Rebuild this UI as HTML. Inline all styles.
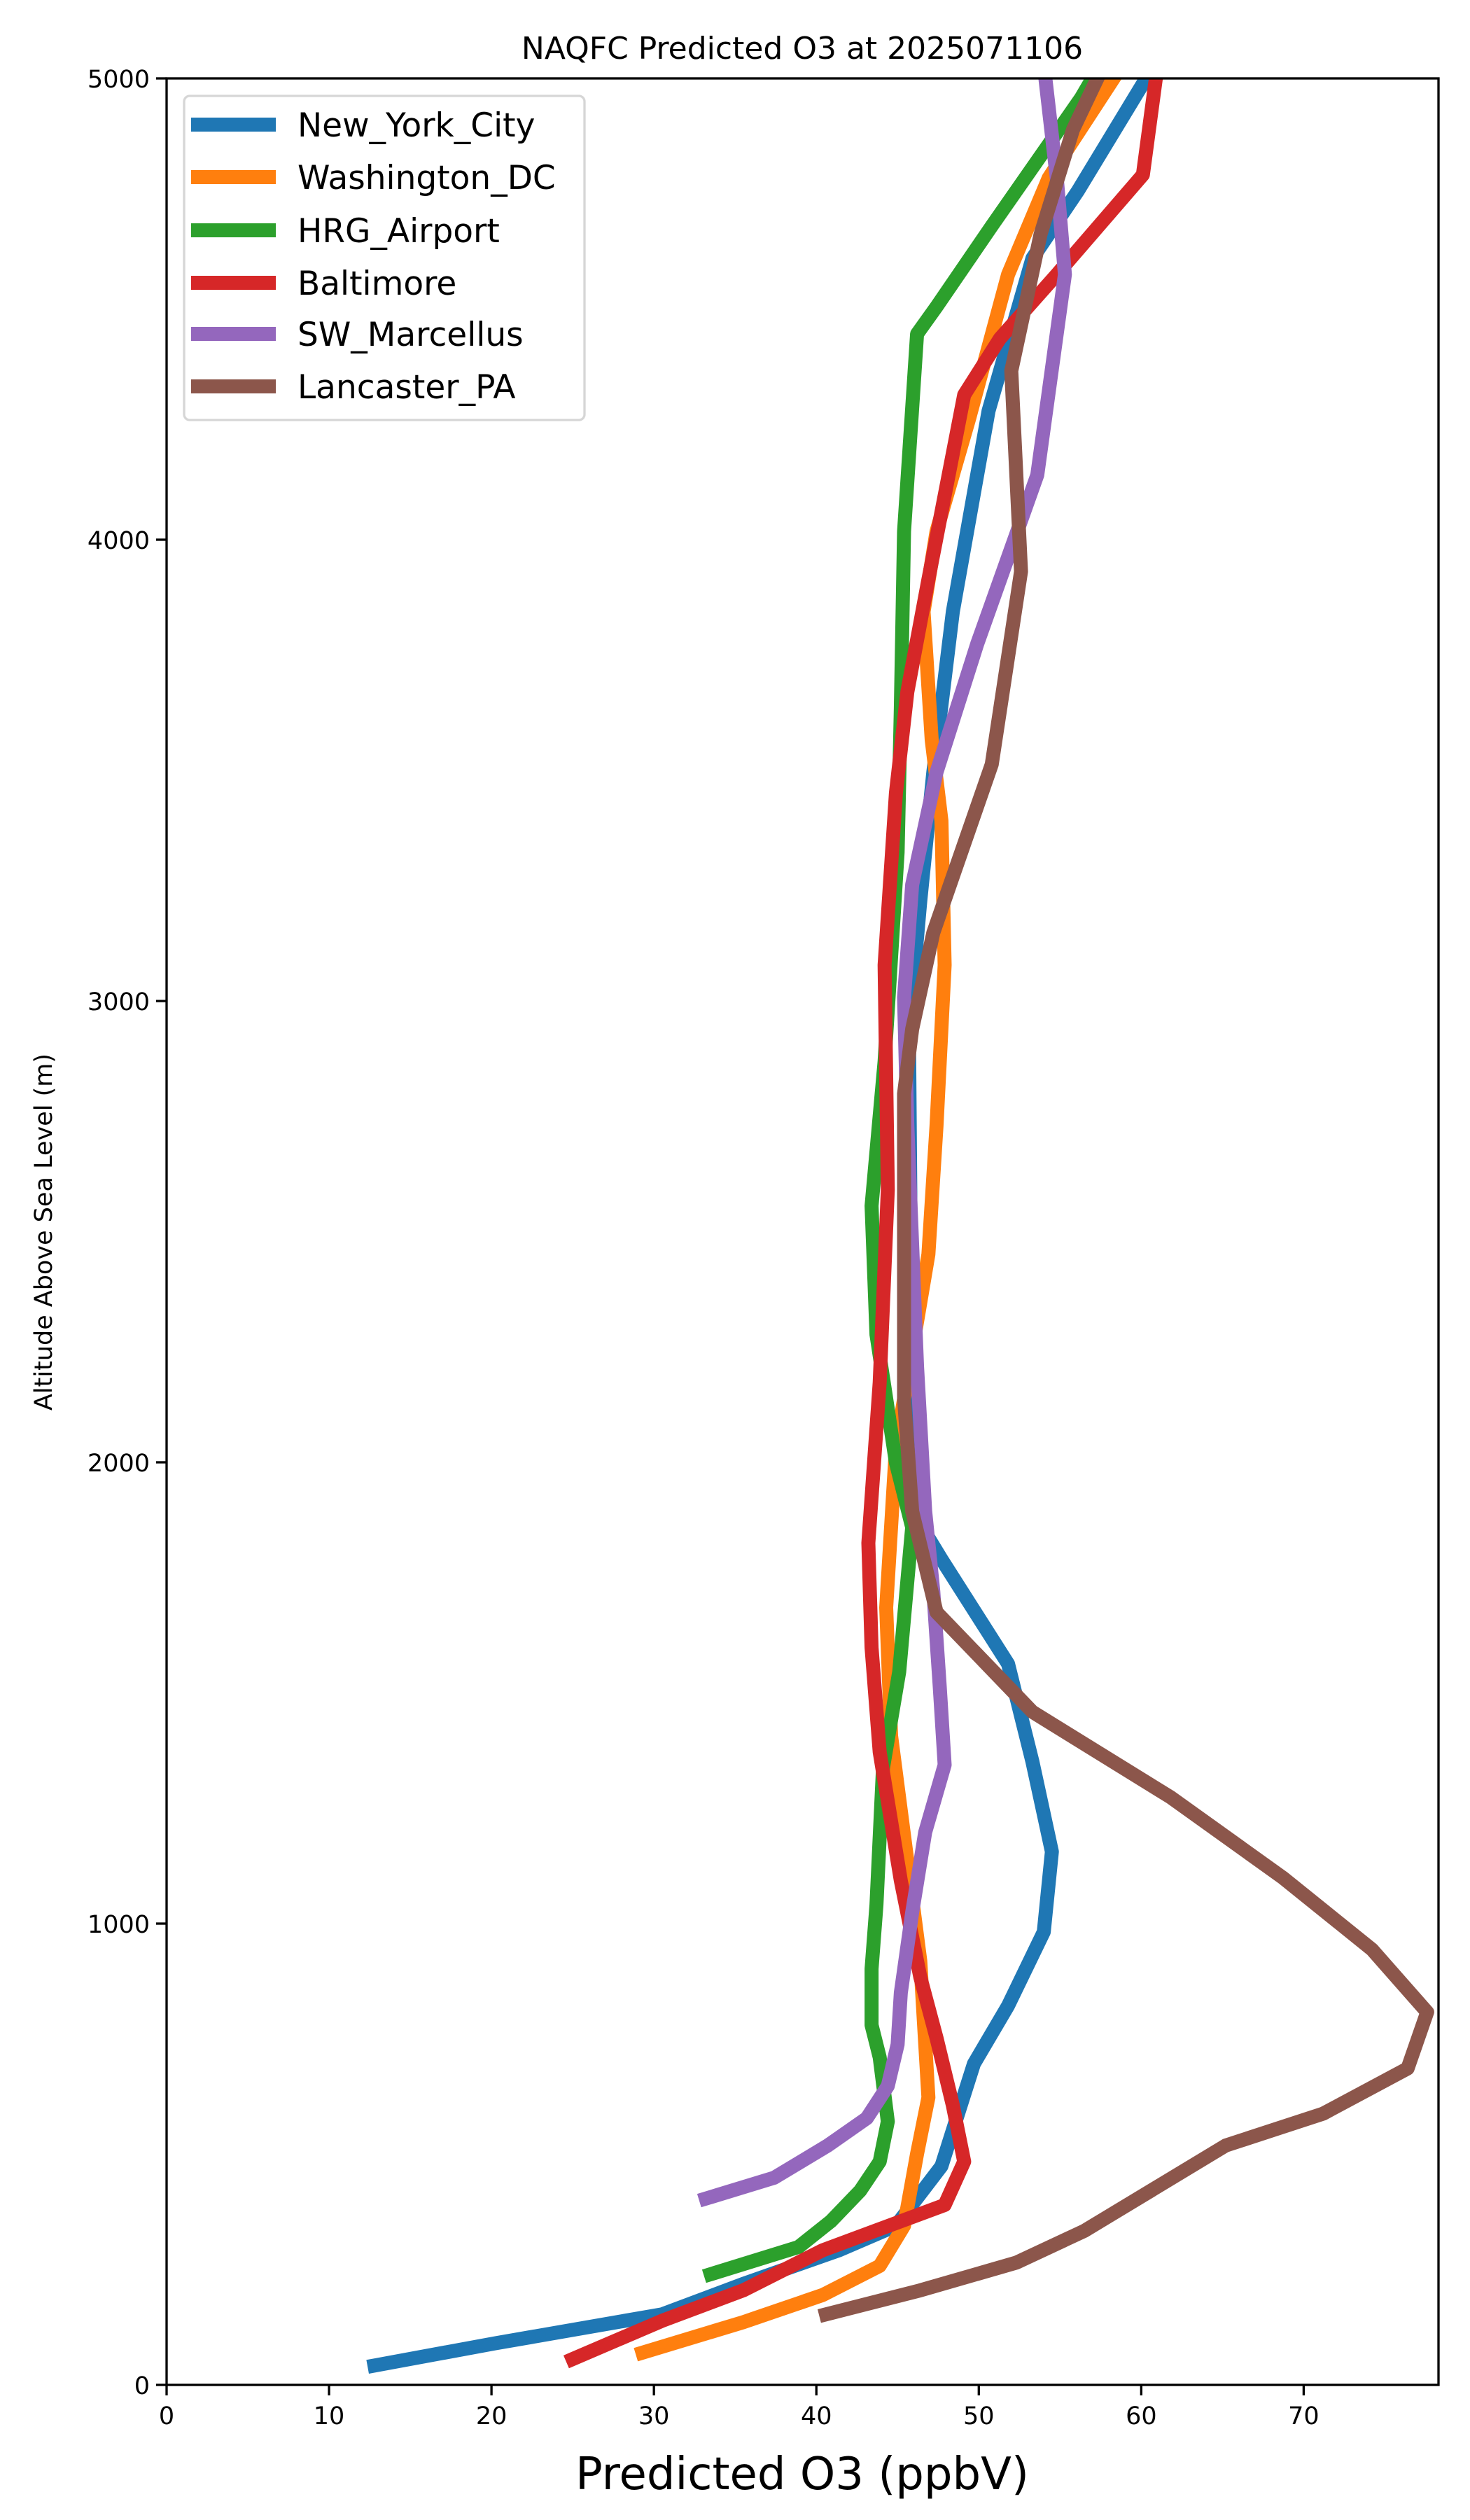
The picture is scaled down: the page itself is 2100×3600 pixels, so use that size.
<!DOCTYPE html>
<html><head><meta charset="utf-8"><style>
html,body{margin:0;padding:0;background:#fff;}
svg{display:block;font-family:"DejaVu Sans","Liberation Sans",sans-serif;}
</style></head><body>
<svg id="chart" width="2100" height="3600" viewBox="0 0 2100 3600">
<defs><clipPath id="plotclip"><rect x="238" y="112" width="1817" height="3295"/></clipPath></defs>
<rect x="0" y="0" width="2100" height="3600" fill="#fff"/>
<text x="1146" y="84" font-size="44" text-anchor="middle">NAQFC Predicted O3 at 2025071106</text>
<g id="series" clip-path="url(#plotclip)"></g>
<g id="axes"></g>
<text x="1146" y="3556" font-size="64" text-anchor="middle">Predicted O3 (ppbV)</text>
<text x="0" y="0" font-size="35" text-anchor="middle" transform="translate(74,1760) rotate(-90)">Altitude Above Sea Level (m)</text>
<g id="legend"></g>
</svg>
<script>
const seriesNames = ["New_York_City","Washington_DC","HRG_Airport","Baltimore","SW_Marcellus","Lancaster_PA"];
const seriesColors = ["#1f77b4","#ff7f0e","#2ca02c","#d62728","#9467bd","#8c564b"];
const nycO3 = [12.8,20.2,30.5,35.5,41.4,44.9,47.7,49.7,51.8,54.0,54.5,53.3,51.8,47.7,46.2,45.8,45.7,46.4,47.2,48.4,50.6,53.3,56.1,60.3];
const nycAlt = [42,90,153,219,292,345,474,696,822,982,1156,1351,1563,1790,1877,2521,2939,3217,3496,3844,4279,4610,4756,5000];
const dcO3 = [29.3,35.5,40.4,43.9,45.4,46.2,46.9,46.4,44.6,44.3,44.9,45.9,46.9,47.4,47.9,47.7,47.1,46.6,47.4,49.4,51.8,54.3,58.3];
const dcAlt = [70,136,195,258,345,501,623,919,1407,1685,2033,2242,2451,2730,3078,3391,3566,3844,4018,4262,4575,4784,5000];
const hrgO3 = [33.5,38.9,40.9,42.7,43.9,44.4,43.9,43.4,43.4,43.7,44.1,45.1,45.9,44.9,43.7,43.4,44.2,45.0,45.2,45.4,46.2,47.4,50.8,56.3,57.0];
const hrgAlt = [240,299,355,421,484,571,710,780,902,1041,1337,1546,1859,1999,2277,2556,2869,3322,3635,4018,4446,4505,4680,4958,5000];
const balO3 = [25.0,30.5,35.5,40.4,47.9,49.1,48.4,47.4,46.4,45.2,43.9,43.4,43.2,43.9,44.4,44.2,44.9,45.6,46.9,49.1,51.3,54.8,60.1,60.9];
const balAlt = [56,139,205,292,390,484,606,752,884,1093,1372,1598,1825,2173,2591,3078,3451,3670,3914,4314,4436,4575,4791,5000];
const swmO3 = [33.2,37.4,40.7,43.1,44.4,45.0,45.2,45.9,46.7,47.9,47.6,47.2,46.7,46.2,45.6,45.4,45.9,47.4,49.9,53.6,55.3,54.8,54.1];
const swmAlt = [404,449,519,578,648,738,850,1024,1198,1344,1511,1720,1894,2207,2730,3008,3252,3496,3774,4140,4575,4784,5000];
const lanO3 = [40.6,46.4,52.3,56.5,65.2,71.2,76.4,77.6,74.2,68.7,61.8,53.3,47.4,45.9,45.4,45.4,45.9,47.2,50.8,52.6,52.0,53.8,55.8,57.3];
const lanAlt = [153,205,265,334,519,588,686,808,944,1100,1274,1459,1675,1894,2138,2799,2939,3148,3513,3931,4366,4662,4889,5000];
const xTicks = [0,10,20,30,40,50,60,70];
const yTicks = [0,1000,2000,3000,4000,5000];

const NS = "http://www.w3.org/2000/svg";
const L=238,R=2055,T=112,B=3407,XMAX=78.3,YMAX=5000;
function xs(v){return L+(v/XMAX)*(R-L);}
function ys(v){return B-(v/YMAX)*(B-T);}
function mk(tag,attrs,parent){const e=document.createElementNS(NS,tag);for(const k in attrs)e.setAttribute(k,attrs[k]);parent.appendChild(e);return e;}

const allO3=[nycO3,dcO3,hrgO3,balO3,swmO3,lanO3];
const allAlt=[nycAlt,dcAlt,hrgAlt,balAlt,swmAlt,lanAlt];
const sg=document.getElementById('series');
for(let i=0;i<6;i++){
  const pts=allO3[i].map((v,j)=>xs(v).toFixed(1)+','+ys(allAlt[i][j]).toFixed(1)).join(' ');
  const pl=mk('polyline',{points:pts,fill:'none',stroke:seriesColors[i],'stroke-width':20,'stroke-linecap':'square','stroke-linejoin':'round'},sg);
  
  
}
const ax=document.getElementById('axes');
const frame=mk('rect',{x:L,y:T,width:R-L,height:B-T,fill:'none',stroke:'#000','stroke-width':3.3},ax);


xTicks.forEach(t=>{
  const x=xs(t);
  const tk=mk('line',{x1:x,y1:B,x2:x,y2:B+15,stroke:'#000','stroke-width':3.3},ax);
  
  
  const tx=mk('text',{x:x,y:B+56,'font-size':35,'text-anchor':'middle'},ax);
  tx.textContent=t;
  
  
});
yTicks.forEach(t=>{
  const y=ys(t);
  const tk=mk('line',{x1:L-15,y1:y,x2:L,y2:y,stroke:'#000','stroke-width':3.3},ax);
  
  
  const tx=mk('text',{x:L-24,y:y+13,'font-size':35,'text-anchor':'end'},ax);
  tx.textContent=t;
  
  
});
const lg=document.getElementById('legend');
const box=mk('rect',{x:263,y:137,width:572,height:463,rx:8,fill:'#fff','fill-opacity':0.8,stroke:'#d6d6d6','stroke-width':3.3},lg);


const rowY=[178,253,329,404,477,552];
for(let i=0;i<6;i++){
  const h=mk('line',{x1:273,y1:rowY[i],x2:394,y2:rowY[i],stroke:seriesColors[i],'stroke-width':20},lg);
  
  
  const t=mk('text',{x:425,y:rowY[i]+17,'font-size':47},lg);
  t.textContent=seriesNames[i];
  
  
}
</script>
</body></html>
